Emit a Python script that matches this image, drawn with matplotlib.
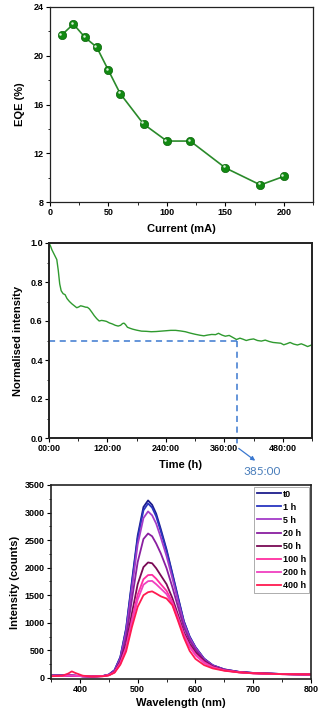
import matplotlib
matplotlib.use("Agg")
import matplotlib.pyplot as plt
import matplotlib.transforms as mtransforms
from matplotlib.ticker import MultipleLocator, FixedLocator
import numpy as np

plt.rcParams['font.family'] = ['Liberation Sans', 'DejaVu Sans']
plt.rcParams['font.weight'] = 'bold'
plt.rcParams['axes.labelweight'] = 'bold'

# EQE vs current
current = [10, 20, 30, 40, 50, 60, 80, 100, 120, 150, 180, 200]
eqe = [21.7, 22.6, 21.5, 20.7, 18.8, 16.9, 14.4, 13.0, 13.0, 10.8, 9.4, 10.1]

# lifetime decay
time_h = [0, 3, 6, 10, 13, 16, 19, 22, 25, 29, 33, 37, 42, 47, 52, 57, 61, 65, 70, 75,
          79, 83, 88, 93, 98, 103, 108, 113, 118, 124, 130, 136, 142, 147, 151, 154, 157, 161, 166, 172,
          180, 190, 200, 210, 220, 230, 240, 250, 260, 270, 280, 290, 300, 310, 318, 326, 334, 342, 348, 355,
          362, 370, 378, 385, 392, 398, 405, 412, 420, 428, 436, 444, 452, 460, 468, 476, 482, 488, 495, 502,
          510, 518, 525, 531, 536, 540]
norm_int = [1.0, 0.985, 0.965, 0.945, 0.93, 0.915, 0.86, 0.79, 0.755, 0.74,
            0.735, 0.715, 0.70, 0.688, 0.678, 0.668, 0.672, 0.678, 0.675, 0.671,
            0.670, 0.662, 0.645, 0.627, 0.612, 0.600, 0.603, 0.601, 0.598, 0.590,
            0.585, 0.578, 0.574, 0.578, 0.587, 0.589, 0.582, 0.568, 0.563, 0.558,
            0.553, 0.548, 0.547, 0.545, 0.546, 0.548, 0.550, 0.552, 0.552, 0.549,
            0.545, 0.538, 0.532, 0.527, 0.524, 0.528, 0.531, 0.530, 0.537, 0.528,
            0.522, 0.526, 0.515, 0.505, 0.512, 0.507, 0.500, 0.505, 0.508, 0.500,
            0.497, 0.502, 0.495, 0.490, 0.488, 0.486, 0.478, 0.483, 0.490, 0.482,
            0.477, 0.483, 0.476, 0.469, 0.474, 0.478]
t50 = 385
time_ticks = [0, 120, 240, 360, 480]
time_labels = ["00:00", "120:00", "240:00", "360:00", "480:00"]

# EL spectra
wl = [350, 370, 380, 386, 392, 405, 420, 440, 450, 460, 470, 480, 490, 500, 510, 518,
      525, 532, 540, 550, 560, 570, 580, 590, 600, 615, 630, 650, 675, 700, 750, 800]
spec_labels = ["t0", "1 h", "5 h", "20 h", "50 h", "100 h", "200 h", "400 h"]
s_t0 = [45, 45, 45, 45, 40, 30, 25, 35, 60, 140, 380, 900, 1750, 2580, 3100, 3220,
        3140, 2980, 2700, 2330, 1900, 1460, 1030, 750, 560, 350, 230, 155, 110, 90, 70, 60]
s_1h = [45, 45, 45, 45, 40, 30, 25, 35, 60, 140, 370, 880, 1710, 2530, 3040, 3165,
        3090, 2930, 2660, 2300, 1880, 1440, 1020, 745, 555, 345, 228, 153, 110, 90, 70, 60]
s_5h = [40, 40, 40, 40, 38, 30, 25, 35, 55, 130, 350, 830, 1620, 2420, 2900, 3020,
        2950, 2800, 2550, 2210, 1810, 1390, 990, 725, 545, 340, 225, 150, 108, 88, 70, 60]
s_20h = [40, 40, 40, 40, 38, 30, 25, 33, 55, 120, 320, 730, 1420, 2100, 2520, 2620,
         2570, 2440, 2260, 1990, 1650, 1280, 920, 680, 515, 325, 215, 148, 106, 88, 70, 60]
s_50h = [40, 40, 40, 40, 38, 30, 25, 32, 50, 110, 290, 620, 1170, 1700, 2010, 2095,
         2080, 1990, 1860, 1700, 1450, 1140, 830, 620, 470, 305, 205, 142, 104, 85, 68, 60]
s_100h = [38, 38, 40, 40, 38, 30, 25, 32, 50, 105, 270, 560, 1050, 1510, 1790, 1865,
          1870, 1800, 1700, 1580, 1380, 1090, 790, 580, 430, 285, 195, 138, 102, 82, 68, 60]
s_200h = [38, 38, 42, 42, 38, 30, 25, 32, 50, 100, 260, 530, 990, 1420, 1690, 1755,
          1760, 1700, 1620, 1520, 1340, 1060, 770, 560, 410, 270, 188, 135, 102, 82, 68, 60]
s_400h = [30, 40, 80, 118, 90, 40, 25, 30, 45, 95, 240, 480, 920, 1290, 1500, 1555,
          1570, 1530, 1480, 1440, 1320, 1030, 730, 490, 345, 232, 172, 130, 100, 85, 68, 65]
spectra = [s_t0, s_1h, s_5h, s_20h, s_50h, s_100h, s_200h, s_400h]
spec_colors = ["#1c1c8c", "#2a35c0", "#a43cc8", "#8a1fa0", "#7a0a55", "#ff2ea0", "#f040c0", "#ff1a50"]

fig = plt.figure(figsize=(3.22, 7.13), dpi=100)
W, H = 322, 713


def add_ax(l, r, t, b):
    return fig.add_axes([l / W, 1 - b / H, (r - l) / W, (b - t) / H])


def style(ax, lw):
    for s in ax.spines.values():
        s.set_linewidth(lw)
        s.set_color("#222222")
    ax.tick_params(which='major', direction='out', length=3, width=0.8, labelsize=6.5, pad=1.5)
    ax.tick_params(which='minor', direction='out', length=1.8, width=0.6)


# panel 1
ax1 = add_ax(50, 313, 7, 202)
ax1.plot(current, eqe, color="#2a8a2a", lw=1.2, marker='o', ms=6,
         mfc="#128a12", mec="#0a650a", mew=0.5)
hl = mtransforms.offset_copy(ax1.transData, fig=fig, x=-1.1, y=1.1, units='points')
ax1.plot(current, eqe, ls='none', marker='o', ms=1.8, mfc="#d8f0d8", mec='none', transform=hl)
ax1.set_xlim(0, 225)
ax1.set_ylim(8, 24)
ax1.xaxis.set_major_locator(FixedLocator([0, 50, 100, 150, 200]))
ax1.xaxis.set_minor_locator(MultipleLocator(25))
ax1.yaxis.set_major_locator(MultipleLocator(4))
ax1.yaxis.set_minor_locator(MultipleLocator(2))
ax1.set_xlabel("Current (mA)", fontsize=8, labelpad=5)
ax1.set_ylabel("EQE (%)", fontsize=8, labelpad=6)
style(ax1, 0.9)

# panel 2
ax2 = add_ax(49, 312, 243, 438)
ax2.plot(time_h, norm_int, color="#2f9a2f", lw=1.0)
dash_col = "#3a78d0"
ax2.plot([0, t50], [0.5, 0.5], ls=(0, (4, 3)), color=dash_col, lw=1.1)
ax2.plot([t50, t50], [0.5, -0.045], ls=(0, (4, 3)), color=dash_col, lw=1.1, clip_on=False)
ax2.annotate("", xy=(428, -0.125), xytext=(t50, -0.045),
             arrowprops=dict(arrowstyle="-|>", color=dash_col, lw=0.9, mutation_scale=6),
             annotation_clip=False)
ax2.text(438, -0.172, f"{t50}:00", color="#4a7ebb", fontsize=8.5, fontweight='normal',
         family=['Lato', 'DejaVu Sans'], ha='center', va='center', clip_on=False)
ax2.set_xlim(0, 540)
ax2.set_ylim(0, 1.0)
ax2.set_xticks(time_ticks, time_labels)
ax2.xaxis.set_minor_locator(MultipleLocator(60))
ax2.yaxis.set_major_locator(MultipleLocator(0.2))
ax2.yaxis.set_minor_locator(MultipleLocator(0.1))
ax2.yaxis.set_major_formatter(matplotlib.ticker.FormatStrFormatter('%.1f'))
ax2.set_xlabel("Time (h)", fontsize=8, labelpad=5)
ax2.set_ylabel("Normalised intensity", fontsize=8, labelpad=5)
style(ax2, 1.4)

# panel 3
ax3 = add_ax(51, 311, 485, 679)
for lab, s, c in zip(spec_labels, spectra, spec_colors):
    ax3.plot(wl, s, color=c, lw=1.3, label=lab)
ax3.set_xlim(350, 800)
ax3.set_ylim(-20, 3500)
ax3.xaxis.set_major_locator(MultipleLocator(100))
ax3.xaxis.set_minor_locator(MultipleLocator(50))
ax3.yaxis.set_major_locator(MultipleLocator(500))
ax3.yaxis.set_minor_locator(MultipleLocator(250))
ax3.set_xlabel("Wavelength (nm)", fontsize=8, labelpad=3)
ax3.set_ylabel("Intensity (counts)", fontsize=8, labelpad=3)
leg = ax3.legend(loc='upper right', fontsize=6.5, handlelength=2.6, handletextpad=0.3,
                 labelspacing=0.45, borderaxespad=0.2, borderpad=0.3, frameon=True, fancybox=False)
leg.get_frame().set_edgecolor("#888888")
leg.get_frame().set_linewidth(0.6)
style(ax3, 1.2)

fig.savefig("out.png", dpi=100)
